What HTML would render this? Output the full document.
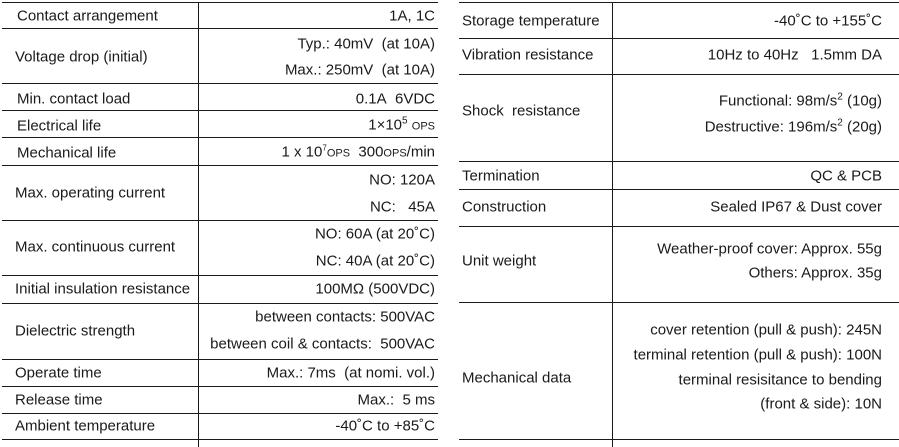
<!DOCTYPE html>
<html><head><meta charset="utf-8"><style>
body{margin:0;width:899px;height:447px;background:#fff;position:relative;overflow:hidden;font-family:"Liberation Sans",Arial,sans-serif;font-size:15px;color:#1a1a1a}
.h{position:absolute;height:1.4px;background:#1a1a1a}
.v{position:absolute;width:1.4px;background:#1a1a1a}
.l{position:absolute;white-space:nowrap;transform:translateY(-50%);line-height:17px}
.r{position:absolute;white-space:nowrap;transform:translate(-100%,-50%);line-height:17px;text-align:right}
sup{font-size:10px;vertical-align:6px;line-height:0}
.sc{font-size:11px}
</style></head><body>
<div class="h" style="left:2px;width:436px;top:2px"></div>
<div class="h" style="left:2px;width:436px;top:28px"></div>
<div class="h" style="left:2px;width:436px;top:83px"></div>
<div class="h" style="left:2px;width:436px;top:110px"></div>
<div class="h" style="left:2px;width:436px;top:137px"></div>
<div class="h" style="left:2px;width:436px;top:165px"></div>
<div class="h" style="left:2px;width:436px;top:220px"></div>
<div class="h" style="left:2px;width:436px;top:275px"></div>
<div class="h" style="left:2px;width:436px;top:303px"></div>
<div class="h" style="left:2px;width:436px;top:359px"></div>
<div class="h" style="left:2px;width:436px;top:386px"></div>
<div class="h" style="left:2px;width:436px;top:413px"></div>
<div class="h" style="left:2px;width:436px;top:439px"></div>
<div class="v" style="left:198px;top:2px;height:445px"></div>
<div class="h" style="left:459px;width:440px;top:2px"></div>
<div class="h" style="left:459px;width:440px;top:38px"></div>
<div class="h" style="left:459px;width:440px;top:74px"></div>
<div class="h" style="left:459px;width:440px;top:161px"></div>
<div class="h" style="left:459px;width:440px;top:189px"></div>
<div class="h" style="left:459px;width:440px;top:226px"></div>
<div class="h" style="left:459px;width:440px;top:302px"></div>
<div class="h" style="left:459px;width:440px;top:439px"></div>
<div class="v" style="left:612px;top:2px;height:445px"></div>

<div class="l" style="left:17px;top:16px">Contact arrangement</div>
<div class="l" style="left:15px;top:57px">Voltage drop (initial)</div>
<div class="l" style="left:17px;top:99px">Min. contact load</div>
<div class="l" style="left:17px;top:126px">Electrical life</div>
<div class="l" style="left:17px;top:153px">Mechanical life</div>
<div class="l" style="left:15px;top:193px">Max. operating current</div>
<div class="l" style="left:15px;top:247px">Max. continuous current</div>
<div class="l" style="left:15px;top:289px">Initial insulation resistance</div>
<div class="l" style="left:15px;top:331px">Dielectric strength</div>
<div class="l" style="left:15px;top:373px">Operate time</div>
<div class="l" style="left:15px;top:400px">Release time</div>
<div class="l" style="left:15px;top:426px">Ambient temperature</div>
<div class="r" style="left:435px;top:16px">1A, 1C</div>
<div class="r" style="left:435px;top:44px">Typ.: 40mV&nbsp; (at 10A)</div>
<div class="r" style="left:435px;top:70px">Max.: 250mV&nbsp; (at 10A)</div>
<div class="r" style="left:435px;top:99px">0.1A&nbsp; 6VDC</div>
<div class="r" style="left:435px;top:126px">1×10<sup>5</sup> <span class="sc">OPS</span></div>
<div class="r" style="left:435px;top:153px">1 x 10<sup style="font-size:8px">7</sup><span class="sc">OPS</span>&nbsp; 300<span class="sc">OPS</span>/min</div>
<div class="r" style="left:435px;top:180px">NO: 120A</div>
<div class="r" style="left:435px;top:207px">NC:&nbsp;&nbsp; 45A</div>
<div class="r" style="left:435px;top:234px">NO: 60A (at 20˚C)</div>
<div class="r" style="left:435px;top:261px">NC: 40A (at 20˚C)</div>
<div class="r" style="left:435px;top:289px">100MΩ (500VDC)</div>
<div class="r" style="left:435px;top:317px">between contacts: 500VAC</div>
<div class="r" style="left:435px;top:344px">between coil &amp; contacts:&nbsp; 500VAC</div>
<div class="r" style="left:435px;top:373px">Max.: 7ms&nbsp; (at nomi. vol.)</div>
<div class="r" style="left:435px;top:400px">Max.:&nbsp; 5 ms</div>
<div class="r" style="left:435px;top:426px">-40˚C to +85˚C</div>

<div class="l" style="left:462px;top:21px">Storage temperature</div>
<div class="l" style="left:462px;top:55px">Vibration resistance</div>
<div class="l" style="left:462px;top:111px">Shock&nbsp; resistance</div>
<div class="l" style="left:462px;top:176px">Termination</div>
<div class="l" style="left:462px;top:207px">Construction</div>
<div class="l" style="left:462px;top:261px">Unit weight</div>
<div class="l" style="left:462px;top:378px">Mechanical data</div>
<div class="r" style="left:882px;top:21px">-40˚C to +155˚C</div>
<div class="r" style="left:882px;top:55px">10Hz to 40Hz&nbsp;&nbsp; 1.5mm DA</div>
<div class="r" style="left:882px;top:101px">Functional: 98m/s<sup>2</sup> (10g)</div>
<div class="r" style="left:882px;top:127px">Destructive: 196m/s<sup>2</sup> (20g)</div>
<div class="r" style="left:882px;top:176px">QC &amp; PCB</div>
<div class="r" style="left:882px;top:207px">Sealed IP67 &amp; Dust cover</div>
<div class="r" style="left:882px;top:249px">Weather-proof cover: Approx. 55g</div>
<div class="r" style="left:882px;top:273px">Others: Approx. 35g</div>
<div class="r" style="left:882px;top:330px">cover retention (pull &amp; push): 245N</div>
<div class="r" style="left:882px;top:355px">terminal retention (pull &amp; push): 100N</div>
<div class="r" style="left:882px;top:380px">terminal resisitance to bending</div>
<div class="r" style="left:882px;top:404px">(front &amp; side): 10N</div>
</body></html>
